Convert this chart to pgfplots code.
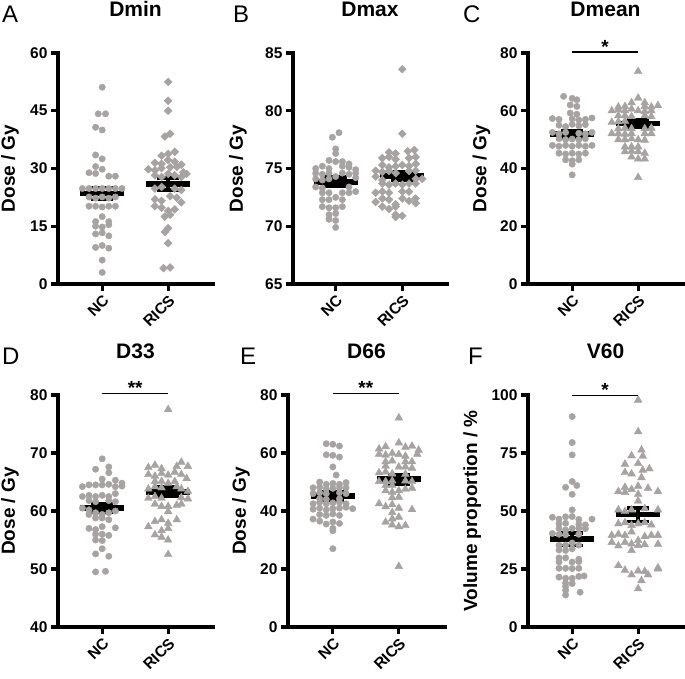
\documentclass[border=0pt]{standalone}
\usepackage{fontspec}
\setmainfont{Liberation Sans}
\usepackage{pgfplots}
\pgfplotsset{compat=1.18}
\definecolor{dotgray}{RGB}{168,163,163}
\newcommand{\tl}{\fontsize{15.5}{17}\selectfont\bfseries}
\pgfplotsset{
  gp/.style={
    scale only axis, width=155pt, height=231pt,
    axis x line*=bottom, axis y line*=left,
    axis line style={-, line width=3.4pt, line cap=rect, black},
    xmin=-0.67, xmax=1.68,
    xtick={0,1}, xticklabels={\textbf{NC},\textbf{RICS}},
    tick align=outside, major tick length=7pt,
    every tick/.style={line width=3.2pt, black},
    minor tick num=0,
    ticklabel style={font=\tl, black},
    yticklabel style={font=\tl, black},
    xticklabel style={font=\tl, rotate=45, anchor=north east, inner sep=2pt},
    clip=false,
    ylabel style={font=\fontsize{19}{21}\selectfont\bfseries, anchor=center},
    title style={font=\fontsize{21}{24}\selectfont\bfseries, at={(axis description cs:0.5,1)}, anchor=base, yshift=30.5pt},
  },
  nc/.style={only marks, mark=*, mark size=3.2pt, color=dotgray, mark options={draw=dotgray, fill=dotgray}},
  rd/.style={only marks, mark=square*, mark size=2.8pt, color=dotgray, mark options={rotate=45, draw=dotgray, fill=dotgray}},
  rt/.style={only marks, mark=triangle*, mark size=4.5pt, color=dotgray, mark options={draw=dotgray, fill=dotgray}},
}
\newcommand{\msNC}[3]{%
  \addplot[black, line width=5.5pt] coordinates {(-0.33,#1) (0.33,#1)};
  \addplot[black, line width=3.5pt] coordinates {(0,#2) (0,#3)};
  \addplot[black, line width=3.5pt] coordinates {(-0.17,#2) (0.17,#2)};
  \addplot[black, line width=3.5pt] coordinates {(-0.17,#3) (0.17,#3)};
}
\newcommand{\msR}[3]{%
  \addplot[black, line width=5.5pt] coordinates {(0.67,#1) (1.33,#1)};
  \addplot[black, line width=3.5pt] coordinates {(1,#2) (1,#3)};
  \addplot[black, line width=3.5pt] coordinates {(0.83,#2) (1.17,#2)};
  \addplot[black, line width=3.5pt] coordinates {(0.83,#3) (1.17,#3)};
}
\newcommand{\sig}[2]{%
  \addplot[black, line width=1.4pt] coordinates {(0,#1) (1,#1)};
  \node[anchor=base, inner sep=0pt, font=\fontsize{19}{19}\selectfont\bfseries, yshift=-1pt] at (axis cs:0.5,#1) {#2};
}
\begin{document}
\begin{tikzpicture}
\useasboundingbox (0pt,0pt) rectangle (685pt,679pt);
\tikzset{lett/.style={anchor=base west, inner sep=0pt, font=\fontsize{24}{24}\selectfont}}
\node[lett] at (2pt,656pt) {A};
\node[lett] at (233pt,656pt) {B};
\node[lett] at (463pt,656pt) {C};
\node[lett] at (2pt,314pt) {D};
\node[lett] at (240pt,314pt) {E};
\node[lett] at (468pt,314pt) {F};

% ---------------- A: Dmin
\begin{axis}[gp, at={(58pt,395pt)}, anchor=south west,
  ymin=0, ymax=60, ytick={0,15,30,45,60}, yticklabels={\textbf{0},\textbf{15},\textbf{30},\textbf{45},\textbf{60}}, title={Dmin}, ylabel={Dose / Gy},
  ylabel style={at={(axis description cs:-0.31,0.5)}}]
\addplot[nc] table {
x y
0 51.1
-0.06 44.2
0.05 44.2
-0.1 40.7
0 40.0
-0.1 33.5
0 32.5
-0.1 30.5
0 29.8
-0.2 28.9
-0.1 28.7
0.1 28.0
0.2 28.0
-0.3 24.8
-0.2 24.8
-0.1 24.8
0 24.8
0.1 24.8
0.2 24.8
0.3 24.8
-0.2 22.6
-0.1 22.3
0 22.6
0.1 22.3
0.2 22.6
-0.2 20.2
-0.1 20.2
0 20.0
0.1 20.2
0.2 20.2
0 17.5
-0.1 16.2
0.1 16.2
-0.1 15.0
0 14.8
0.1 15.4
-0.1 13.0
0 13.3
0.1 12.5
-0.1 9.5
0 10.0
0.1 9.3
0 6.2
0 3.0
};
\addplot[rd] table {
x y
1 52.5
1 47.6
1 45.0
0.95 38.3
1.03 39.0
0.9 33.3
1 33.8
1.1 34.3
0.8 31.5
0.9 31.2
1 32.2
1.1 31.8
1.2 31.0
0.7 29.8
0.8 29.5
0.9 30.1
1.03 30.3
1.13 30.4
1.23 29.0
1.28 28.6
0.8 28.2
0.9 27.8
1 28.6
1.1 28.2
1.2 27.8
0.8 24.8
0.9 25.2
1.1 24.8
1.2 24.4
0.8 22.0
0.9 21.6
1.03 22.8
1.13 22.4
1.2 21.2
0.8 20.2
0.9 19.8
1 19.0
1.1 19.4
0.95 17.5
1.03 18.0
1 14.5
0.95 13.5
1 10.6
0.93 4.1
1.03 4.3
};
\msNC{23.5}{21.9}{25.1}
\msR{26.0}{24.4}{27.5}
\end{axis}

% ---------------- B: Dmax
\begin{axis}[gp, at={(293pt,395pt)}, anchor=south west, width=154pt, xmin=-0.64, xmax=1.67,
  ymin=65, ymax=85, ytick={65,70,75,80,85}, yticklabels={\textbf{65},\textbf{70},\textbf{75},\textbf{80},\textbf{85}}, title={Dmax}, ylabel={Dose / Gy},
  ylabel style={at={(axis description cs:-0.357,0.5)}}]
\addplot[nc] table {
x y
0.05 78.1
-0.05 77.7
0 76.7
0 76.3
-0.1 75.7
0 75.6
0.1 75.6
0.2 75.4
-0.3 75.0
-0.2 75.2
-0.1 75.0
0.1 75.2
0.2 75.1
0.3 74.9
-0.3 74.6
-0.2 74.5
-0.1 74.6
0 74.3
0.1 74.6
0.2 74.5
0.3 74.6
-0.3 74.1
-0.2 74.0
-0.1 74.1
0.3 74.2
-0.3 73.4
-0.2 73.3
0.2 73.4
0.3 73.0
-0.2 72.9
-0.1 72.9
0.1 72.9
0.2 72.9
-0.2 72.3
-0.1 72.3
0 72.5
0.1 72.3
-0.2 71.7
-0.1 71.6
0 71.6
0.1 71.7
-0.1 71.0
0 71.1
-0.1 70.6
0 70.5
0 69.9
};
\addplot[rd] table {
x y
1 83.6
1 78.0
1.18 76.6
0.8 76.4
0.9 76.3
1.08 76.5
0.7 75.9
0.8 76.0
0.9 75.8
1.1 75.9
1.2 76.0
0.7 75.3
0.8 75.1
0.9 75.2
1 75.3
1.1 75.2
1.2 75.4
0.6 74.8
0.7 74.7
0.8 74.8
0.9 74.6
1.1 74.8
1.2 74.8
0.6 74.3
0.7 74.0
1.2 74.1
1.3 74.1
0.7 73.7
0.8 73.6
0.9 73.7
1 73.6
1.1 73.7
1.2 73.7
0.6 72.9
0.7 73.0
0.8 72.9
1 73.0
1.1 73.0
0.7 72.4
0.8 72.3
1 72.4
1.1 72.2
1.2 72.4
0.6 72.1
0.9 71.9
1.2 72.0
0.7 71.7
0.8 71.5
0.9 71.7
0.9 71.0
1 70.9
0.9 70.8
};
\msNC{73.85}{73.5}{74.25}
\msR{74.35}{74.0}{74.75}
\end{axis}

% ---------------- C: Dmean
\begin{axis}[gp, at={(528pt,395pt)}, anchor=south west,
  ymin=0, ymax=80, ytick={0,20,40,60,80}, yticklabels={\textbf{0},\textbf{20},\textbf{40},\textbf{60},\textbf{80}}, title={Dmean}, ylabel={Dose / Gy},
  ylabel style={at={(axis description cs:-0.30,0.5)}}]
\addplot[nc] table {
x y
-0.13 65.0
0 64.3
0.07 63.8
-0.03 62.0
0.07 61.5
-0.03 59.2
0.07 58.8
-0.3 57.3
-0.2 57.0
0 57.2
0.1 56.8
0.2 57.0
0.3 57.5
-0.2 55.0
-0.1 54.5
0 55.3
0.1 54.8
0.2 55.2
-0.3 52.5
-0.2 52.0
-0.1 52.5
0.1 52.2
0.2 52.0
0.3 52.5
-0.2 50.3
-0.1 50.0
0 50.2
0.1 50.0
0.2 50.3
-0.3 48.0
-0.2 47.7
-0.1 48.0
0 47.7
0.1 48.0
0.2 47.7
0.3 48.0
-0.2 45.3
-0.1 45.0
0 45.3
0.1 45.0
0.2 45.3
-0.1 43.0
0 42.7
0.1 43.0
0 41.5
0 37.8
};
\addplot[rt] table {
x y
1 73.6
1 64.4
0.9 62.8
1.1 62.8
0.7 61.3
0.8 61.5
1.1 61.5
1.2 61.3
1.3 61.8
0.6 60.0
0.7 60.3
0.8 60.0
0.9 60.6
1 60.0
1.1 59.8
1.2 60.0
0.7 58.3
0.8 58.3
0.9 58.0
1.1 58.3
1.2 58.0
0.6 56.0
0.7 56.2
0.8 56.4
0.7 53.8
0.8 54.0
0.9 53.8
1.1 53.8
1.2 54.0
0.6 52.1
0.7 52.1
0.8 51.9
0.9 52.1
1.1 52.1
1.2 52.1
0.7 50.0
0.8 50.0
0.9 50.3
1 50.0
1.1 49.8
0.8 47.5
0.9 47.5
1 47.5
0.8 45.8
0.9 46.0
1 45.8
1.1 45.3
0.9 44.0
1 43.3
1.1 43.3
1 36.9
};
\msNC{52.0}{50.9}{53.1}
\msR{55.6}{54.4}{56.8}
\sig{80.3}{*}
\end{axis}

% ---------------- D: D33
\begin{axis}[gp, at={(58pt,52pt)}, anchor=south west, height=232pt,
  ymin=40, ymax=80, ytick={40,50,60,70,80}, yticklabels={\textbf{40},\textbf{50},\textbf{60},\textbf{70},\textbf{80}}, title={D33}, ylabel={Dose / Gy},
  ylabel style={at={(axis description cs:-0.31,0.5)}}]
\addplot[nc] table {
x y
0 69.0
-0.1 67.2
0.1 67.6
0.1 66.6
0 65.5
0.2 65.3
0.3 64.8
-0.3 64.2
-0.2 64.5
-0.1 64.5
0 64.5
0.1 64.6
0.2 64.2
0.3 64.3
-0.3 62.5
-0.2 62.7
-0.1 62.5
0 62.7
0.1 62.5
0.2 63.0
-0.2 61.8
-0.1 61.6
0.1 61.8
0.2 61.6
-0.3 60.5
-0.2 60.2
-0.2 59.4
-0.1 59.7
0 59.4
0.1 59.7
0.2 60.0
-0.1 58.8
0 58.8
0.1 58.5
-0.2 57.0
-0.1 56.8
0 57.3
0.2 57.1
-0.1 56.0
0 56.0
0.1 55.8
-0.1 55.0
0 54.9
0 53.5
-0.1 52.6
0.1 52.2
-0.1 49.5
0.05 49.6
};
\addplot[rt] table {
x y
1 77.5
0.8 67.9
0.7 67.5
0.9 67.3
1.13 67.7
1.2 68.4
1.3 67.7
0.7 66.3
0.8 66.0
0.9 66.5
1 66.2
1.1 66.7
1.2 66.3
0.8 65.1
0.9 65.1
1 64.8
1.1 65.1
1.28 65.6
0.7 63.8
0.8 64.2
0.9 64.0
1.13 64.2
1.2 63.8
1.3 63.4
0.7 62.2
0.8 62.5
0.9 62.2
1.2 62.3
1.3 62.1
0.8 61.2
0.9 60.8
1 60.8
1.13 61.0
1.2 61.2
1 59.9
0.8 58.2
0.9 58.5
1 57.9
1.13 58.5
0.7 57.3
0.9 56.6
1 57.0
0.8 55.9
0.9 55.5
1 55.0
1 52.5
};
\msNC{60.5}{59.8}{61.2}
\msR{63.3}{62.6}{64.1}
\sig{80.3}{**}
\end{axis}

% ---------------- E: D66
\begin{axis}[gp, at={(288pt,52pt)}, anchor=south west, height=232pt, width=157pt, xmin=-0.68, xmax=1.70,
  ymin=0, ymax=80, ytick={0,20,40,60,80}, yticklabels={\textbf{0},\textbf{20},\textbf{40},\textbf{60},\textbf{80}}, title={D66}, ylabel={Dose / Gy},
  ylabel style={at={(axis description cs:-0.30,0.5)}}]
\addplot[nc] table {
x y
-0.1 63.2
0 63.0
0.1 62.4
-0.1 59.4
0 59.2
0.1 58.6
0 55.2
0.05 52.4
-0.2 50.0
-0.1 49.2
0 49.5
0.1 49.2
0.2 49.8
-0.3 48.0
-0.2 48.2
-0.1 47.6
0 47.8
0.1 48.0
0.2 48.0
-0.3 46.0
-0.2 46.3
-0.1 46.0
0.1 46.3
0.2 46.0
-0.2 44.2
-0.1 44.0
0.1 44.2
-0.3 42.5
-0.2 43.0
-0.1 42.5
0 42.8
0.1 43.0
0.2 42.5
-0.3 40.6
-0.2 41.0
-0.1 40.4
0 40.8
0.1 41.0
0.2 41.3
0.3 40.8
-0.2 38.8
-0.1 38.5
0 39.0
0.1 38.5
-0.3 37.2
-0.2 36.5
0 36.2
0.1 35.7
-0.1 35.5
0 34.0
0 33.2
0 27.0
};
\addplot[rt] table {
x y
1 72.1
1 63.5
0.7 61.4
0.8 62.2
1.1 62.0
1.2 62.4
1.3 61.0
0.7 59.6
0.8 59.3
0.9 59.9
1 59.5
1.1 58.9
1.28 59.6
0.8 57.0
0.9 57.3
1.1 57.0
1.2 57.0
0.8 55.5
1 55.2
1.1 55.2
1.2 54.8
0.7 53.2
0.8 53.5
0.9 52.8
1.1 52.7
0.7 50.2
0.8 50.2
0.9 50.4
1.1 50.4
1.2 50.2
0.8 48.8
0.9 48.8
1.2 47.9
0.8 47.0
0.9 46.5
1 47.0
1.1 47.5
0.9 44.6
1 44.8
0.7 42.5
0.8 41.5
0.9 42.2
1 41.0
1.2 40.5
0.9 39.5
0.9 37.3
1 37.9
0.8 36.2
0.9 35.2
1 34.6
1.1 35.0
1 20.9
};
\msNC{45.2}{43.7}{46.6}
\msR{51.0}{49.3}{52.4}
\sig{80.6}{**}
\end{axis}

% ---------------- F: V60
\begin{axis}[gp, at={(528pt,52pt)}, anchor=south west, height=232pt,
  ymin=0, ymax=100, ytick={0,25,50,75,100}, yticklabels={\textbf{0},\textbf{25},\textbf{50},\textbf{75},\textbf{100}}, title={V60}, ylabel={Volume proportion / \%},
  ylabel style={at={(axis description cs:-0.36,0.5)}}]
\addplot[nc] table {
x y
0 90.7
0 79.5
0 74.2
0 62.7
-0.1 60.2
0.07 61.0
0 57.2
0 50.5
-0.3 47.3
-0.2 46.5
-0.1 47.5
0 47.6
0.1 46.4
0.3 46.5
-0.2 44.5
-0.1 44.7
0.1 44.2
0.2 44.0
-0.2 42.5
-0.1 41.8
0 42.5
0.1 42.6
0.2 42.4
-0.3 40.3
-0.2 40.0
-0.1 39.8
0.1 40.0
-0.2 35.2
-0.1 35.3
0 36.2
0.1 35.3
-0.2 33.2
-0.1 33.0
0 33.7
-0.2 29.8
-0.1 29.8
0.1 29.2
-0.2 28.0
0 28.0
0.1 28.2
-0.2 25.3
-0.1 25.3
0 25.2
0.1 25.3
-0.2 21.5
-0.1 21.0
0 21.0
0.1 21.8
0.18 22.0
-0.1 18.9
0 18.7
-0.1 17.5
-0.1 15.8
0.12 15.0
-0.1 13.8
};
\addplot[rt] table {
x y
1 97.8
1 84.2
1.05 76.3
0.9 73.8
1.07 73.7
0.8 70.2
1 70.5
0.8 66.6
0.9 66.0
1.07 67.6
1.17 68.2
1.05 64.4
0.8 60.2
0.9 59.3
1 60.7
1.15 59.8
0.7 58.4
0.8 58.0
1 57.2
1.3 58.4
1 54.3
0.7 50.5
0.8 49.8
0.9 50.5
1.1 51.0
1.3 50.5
0.7 44.5
0.8 45.0
0.9 43.8
1 44.5
1.1 45.0
1.2 44.0
0.6 39.5
0.7 40.0
0.8 39.5
0.9 41.0
1.1 39.0
1.2 39.5
1.3 39.5
0.6 36.5
0.8 36.5
0.9 35.8
1 37.3
0.7 35.0
1 35.2
1.1 35.5
1.3 35.7
0.9 33.0
0.7 26.5
1.3 25.0
0.8 24.5
1 24.2
1.1 24.0
1.3 25.5
0.9 22.5
1.15 22.5
1.05 20.0
1 16.5
};
\msNC{38.0}{35.2}{40.5}
\msR{48.5}{45.5}{51.2}
\sig{99.7}{*}
\end{axis}
\end{tikzpicture}
\end{document}
